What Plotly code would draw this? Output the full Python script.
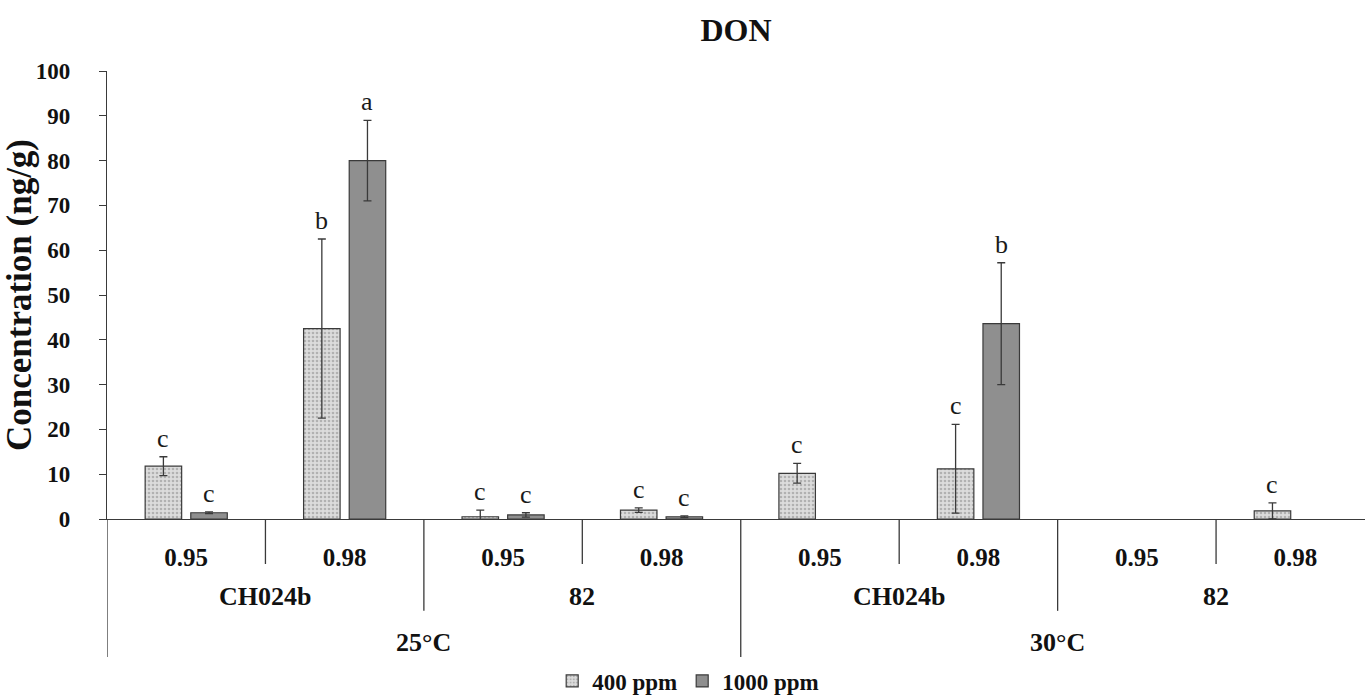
import plotly.graph_objects as go

# ---- data ----
aw = ["0.95", "0.98", "0.95", "0.98", "0.95", "0.98", "0.95", "0.98"]
strain = ["CH024b", "CH024b", "82", "82", "CH024b", "CH024b", "82", "82"]
temp = ["25°C", "25°C", "25°C", "25°C", "30°C", "30°C", "30°C", "30°C"]

ppm400 = [11.8, 42.5, 0.5, 2.0, 10.2, 11.2, 0.0, 1.8]
err400 = [2.1, 20.0, 1.5, 0.5, 2.2, 9.9, 0.0, 1.8]
ppm1000 = [1.4, 80.0, 0.9, 0.5, 0.0, 43.6, 0.0, 0.0]
err1000 = [0.2, 9.0, 0.5, 0.2, 0.0, 13.6, 0.0, 0.0]
letters400 = ["c", "b", "c", "c", "c", "c", "", "c"]
letters1000 = ["c", "a", "c", "c", "", "b", "", ""]

yticks = [0, 10, 20, 30, 40, 50, 60, 70, 80, 90, 100]

FONT = "Liberation Serif, Times New Roman, serif"
EDGE = "#3a3a3a"
x = list(range(len(aw)))

BARGAP = 0.424
SLOT = (1 - BARGAP) / 2  # width of one bar slot in category units


def shown(vals):
    # zero-height bars are not drawn in the reference
    return [v if v > 0 else None for v in vals]


fig = go.Figure()
fig.add_trace(go.Bar(
    x=x, y=shown(ppm400), name="400 ppm",
    marker=dict(color="#d6d6d6", line=dict(color=EDGE, width=1.2),
                pattern=dict(shape=".", fgcolor="#858585", bgcolor="#dcdcdc",
                             size=4, solidity=0.35)),
    error_y=dict(type="data", array=shown(err400), color=EDGE, thickness=1.3, width=4),
))
fig.add_trace(go.Bar(
    x=x, y=shown(ppm1000), name="1000 ppm",
    marker=dict(color="#8f8f8f", line=dict(color=EDGE, width=1.2)),
    error_y=dict(type="data", array=shown(err1000), color=EDGE, thickness=1.3, width=4),
))

annotations = []
# significance letters
for vals, errs, letters, off in [(ppm400, err400, letters400, -SLOT / 2),
                                  (ppm1000, err1000, letters1000, SLOT / 2)]:
    for i, (v, e, t) in enumerate(zip(vals, errs, letters)):
        if t:
            annotations.append(dict(
                x=i + off, y=v + e, xref="x", yref="y", text=t, showarrow=False,
                yanchor="bottom", yshift=2,
                font=dict(family=FONT, size=26, color="#1a1a1a")))

shapes = []
# group divider lines for the 3-level category axis
Y_SHORT, Y_MID, Y_LONG = -0.1004, -0.205, -0.308
shapes.append(dict(type="line", xref="x", yref="paper", x0=-0.5, x1=-0.5,
                   y0=0, y1=Y_LONG, line=dict(color=EDGE, width=1.3)))
for i in range(len(aw) - 1):
    if temp[i] != temp[i + 1]:
        yb = Y_LONG
    elif strain[i] != strain[i + 1]:
        yb = Y_MID
    else:
        yb = Y_SHORT
    shapes.append(dict(type="line", xref="x", yref="paper", x0=i + 0.5, x1=i + 0.5,
                       y0=0, y1=yb, line=dict(color=EDGE, width=1.3)))

# strain labels (pairs)
for k in range(0, len(strain), 2):
    annotations.append(dict(x=(k + k + 1) / 2, y=-0.172, xref="x", yref="paper",
                            text="<b>%s</b>" % strain[k], showarrow=False,
                            yanchor="middle",
                            font=dict(family=FONT, size=26, color="#111")))
# temperature labels (fours)
for k in range(0, len(temp), 4):
    annotations.append(dict(x=(k + k + 3) / 2, y=-0.2746, xref="x", yref="paper",
                            text="<b>%s</b>" % temp[k], showarrow=False,
                            yanchor="middle",
                            font=dict(family=FONT, size=26, color="#111")))

fig.update_layout(
    width=1365, height=697, autosize=False,
    margin=dict(l=107, r=0, t=71, b=178),
    paper_bgcolor="white", plot_bgcolor="white",
    barmode="group", bargap=BARGAP, bargroupgap=0.2,
    title=dict(text="<b>DON</b>", x=0.5, xref="paper", y=1 - 30 / 697, yref="container",
               yanchor="middle", font=dict(family=FONT, size=32, color="#111")),
    xaxis=dict(range=[-0.5, 7.44], tickmode="array", tickvals=x, ticktext=aw,
               ticks="", showline=True, linecolor=EDGE, linewidth=1.3,
               showgrid=False, zeroline=False, ticklabelstandoff=16,
               tickfont=dict(family=FONT, size=25, color="#111", weight="bold")),
    yaxis=dict(range=[0, 100], tickmode="array", tickvals=yticks,
               ticks="outside", ticklen=7, tickwidth=1.3, tickcolor=EDGE,
               showline=True, linecolor=EDGE, linewidth=1.3, showgrid=False,
               zeroline=False, ticklabelstandoff=24,
               tickfont=dict(family=FONT, size=23, color="#111", weight="bold"),
               title=dict(text="<b>Concentration (ng/g)</b>", standoff=2,
                          font=dict(family=FONT, size=35, color="#111"))),
    legend=dict(orientation="h", x=0.462, xanchor="center", xref="paper",
                y=1 - 681 / 697, yanchor="middle", yref="container",
                font=dict(family=FONT, size=23, color="#111", weight="bold"),
                itemwidth=30, traceorder="normal", borderwidth=0,
                bgcolor="rgba(0,0,0,0)"),
    annotations=annotations, shapes=shapes,
)

fig.write_html("out.html", config={"displayModeBar": False},
               post_script="document.body.style.margin='0';"
                           "document.body.style.overflow='hidden';")
